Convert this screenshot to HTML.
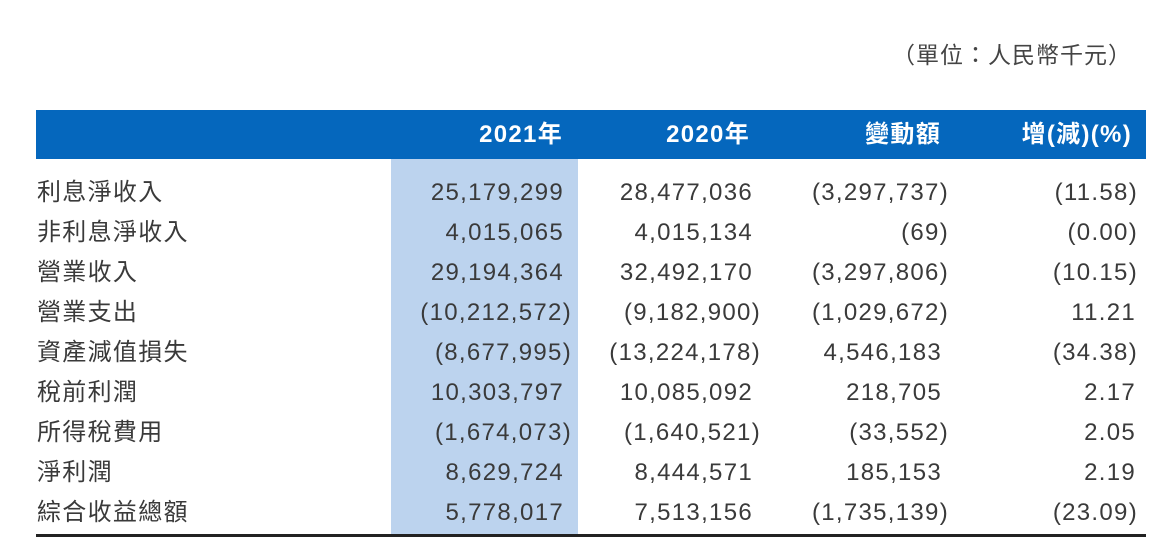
<!DOCTYPE html>
<html><head><meta charset="utf-8"><style>
body{margin:0;width:1174px;height:542px;background:#fff;position:relative;overflow:hidden;font-family:"Liberation Sans","Noto Sans CJK TC",sans-serif;color:#3a3a3a}
.a{position:absolute;white-space:nowrap;font-size:24px;line-height:40px;letter-spacing:1.3px}
.r{text-align:right}
</style></head><body>
<div class="a r" style="right:42px;top:35px;color:#444;font-size:23px;letter-spacing:1px">（單位：人民幣千元）</div>
<div style="position:absolute;left:36px;top:110px;width:1110px;height:49px;background:#0567bd"></div>
<div style="position:absolute;left:391px;top:159px;width:187px;height:375px;background:#bcd3ee"></div>
<div style="position:absolute;left:36px;top:534px;width:1110px;height:3px;background:#222"></div>
<div class="a r" style="top:115px;right:611px;color:#fff;font-weight:bold">2021年</div>
<div class="a r" style="top:115px;right:424px;color:#fff;font-weight:bold">2020年</div>
<div class="a r" style="top:115px;right:233px;color:#fff;font-weight:bold">變動額</div>
<div class="a r" style="top:115px;right:42px;color:#fff;font-weight:bold">增(減)(%)</div>
<div id="t"></div>
<script>
const d=[["利息淨收入","25,179,299","28,477,036","(3,297,737)","(11.58)"],
["非利息淨收入","4,015,065","4,015,134","(69)","(0.00)"],
["營業收入","29,194,364","32,492,170","(3,297,806)","(10.15)"],
["營業支出","(10,212,572)","(9,182,900)","(1,029,672)","11.21"],
["資產減值損失","(8,677,995)","(13,224,178)","4,546,183","(34.38)"],
["稅前利潤","10,303,797","10,085,092","218,705","2.17"],
["所得稅費用","(1,674,073)","(1,640,521)","(33,552)","2.05"],
["淨利潤","8,629,724","8,444,571","185,153","2.19"],
["綜合收益總額","5,778,017","7,513,156","(1,735,139)","(23.09)"]];
const R=[null,610,421,232,38],H=[0,8,8,7,2];let h="";
d.forEach((r,i)=>{const t=173+i*40;
h+=`<div class="a" style="left:37px;top:${t}px">${r[0]}</div>`;
for(let j=1;j<5;j++){let rr=R[j];if(r[j].endsWith(")"))rr-=H[j];h+=`<div class="a r" style="right:${rr}px;top:${t}px">${r[j]}</div>`;}});
document.getElementById("t").innerHTML=h;
</script>
</body></html>
